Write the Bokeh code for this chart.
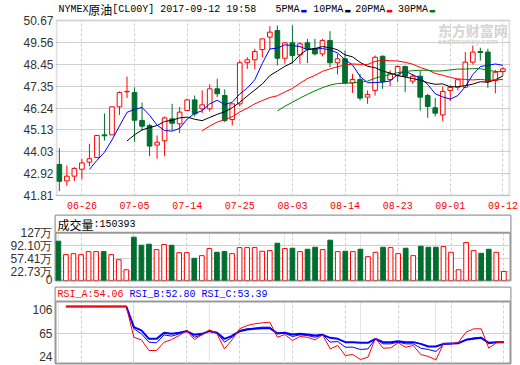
from bokeh.plotting import figure
from bokeh.layouts import column
from bokeh.models import (Range1d, FixedTicker, PrintfTickFormatter, Label, Grid,
                          ColumnDataSource, Span, BoxAnnotation)
from bokeh.embed import file_html
from bokeh.resources import INLINE

# ---------------- data ----------------
tick_idx = [3, 10, 17, 24, 31, 38, 45, 52, 59]
tick_labels = ["06-26", "07-05", "07-14", "07-25", "08-03", "08-14", "08-23", "09-01", "09-12"]

price_ticks = [41.81, 42.92, 44.03, 45.13, 46.24, 47.35, 48.45, 49.56, 50.67]
vol_ticks = [0, 22.73, 57.41, 92.10, 127]
vol_tick_labels = ["0", "22.73万", "57.41万", "92.10万", "127万"]
rsi_ticks = [24, 65, 106]

opens = [43.38, 42.55, 42.79, 43.14, 43.50, 43.73, 44.88, 44.88, 46.30, 47.06,
         47.02, 45.61, 45.35, 44.36, 44.58, 45.69, 45.44, 46.11, 46.65, 46.20,
         46.20, 47.21, 46.87, 45.66, 46.45, 48.53, 48.68, 49.20, 49.83, 50.16,
         48.76, 49.54, 48.93, 49.54, 49.24, 48.98, 49.66, 48.53, 48.73, 47.51,
         47.68, 46.79, 47.13, 48.86, 47.68, 47.88, 48.34, 47.60, 47.85, 46.87,
         46.25, 45.89, 47.13, 47.29, 47.29, 48.56, 49.10, 49.07, 47.63, 48.09]
highs = [44.21, 43.33, 43.24, 43.67, 44.43, 44.88, 45.96, 46.30, 47.08, 47.83,
         47.29, 46.52, 45.44, 44.85, 45.81, 46.45, 46.29, 46.70, 46.87, 47.13,
         47.44, 47.72, 47.18, 46.45, 48.65, 48.81, 49.24, 49.74, 50.38, 50.42,
         49.57, 50.42, 49.57, 49.74, 49.74, 49.74, 50.13, 48.98, 49.15, 47.97,
         47.97, 47.13, 48.90, 48.90, 48.14, 48.39, 48.39, 47.97, 48.14, 46.96,
         46.74, 47.33, 47.38, 47.67, 49.07, 49.40, 49.29, 49.24, 48.17, 48.31]
lows = [42.03, 42.30, 42.54, 42.64, 43.29, 43.73, 44.59, 44.88, 45.89, 46.74,
        44.51, 45.10, 43.80, 43.67, 43.80, 45.10, 44.97, 46.11, 45.81, 45.98,
        46.06, 46.79, 45.52, 45.35, 46.33, 48.22, 48.19, 48.81, 49.20, 48.39,
        48.48, 48.48, 48.48, 48.51, 48.90, 48.86, 48.31, 47.94, 47.46, 47.01,
        46.62, 46.45, 46.87, 47.21, 47.35, 47.55, 47.04, 47.46, 46.11, 45.74,
        45.81, 45.57, 46.59, 47.13, 47.26, 48.44, 48.64, 47.26, 46.99, 47.89]
closes = [42.53, 42.79, 43.18, 43.46, 43.67, 44.85, 44.83, 46.30, 47.02, 47.08,
          45.62, 45.32, 44.31, 44.51, 45.74, 45.47, 46.03, 46.65, 45.94, 46.40,
          47.21, 46.96, 45.61, 46.45, 48.53, 48.68, 49.10, 49.74, 50.08, 48.76,
          49.54, 48.90, 49.49, 49.24, 48.98, 49.66, 48.53, 48.73, 47.51, 47.68,
          46.74, 46.92, 48.81, 47.58, 47.98, 48.34, 47.85, 47.85, 46.79, 46.32,
          45.98, 47.08, 47.29, 47.67, 48.56, 49.07, 49.05, 47.58, 48.05, 48.22]

volume = [104.6, 68.9, 71.5, 68.9, 76.9, 76.9, 76.9, 68.9, 55.4, 28.6,
          115.4, 93.9, 96.6, 82.3, 95.7, 93.9, 74.2, 74.2, 59.0, 66.2,
          85.0, 75.1, 76.9, 71.5, 87.6, 87.6, 87.6, 77.8, 79.6, 99.3,
          85.0, 85.9, 76.9, 83.2, 88.5, 82.3, 107.3, 76.9, 77.8, 76.9,
          83.2, 63.5, 75.1, 88.5, 87.6, 71.5, 85.9, 66.2, 91.2, 88.5,
          88.5, 90.3, 75.1, 28.6, 101.0, 79.6, 72.4, 83.2, 75.1, 24.2]

ma5 = [43.13, 43.59, 44.00, 44.62, 45.33, 46.02, 46.17, 46.27, 45.87, 45.37,
       45.10, 45.07, 45.21, 45.68, 45.97, 46.10, 46.45, 46.63, 46.42, 46.53,
       46.95, 47.25, 47.67, 48.50, 49.23, 49.27, 49.44, 49.40, 49.35, 49.19,
       49.23, 49.25, 49.18, 49.03, 48.68, 48.42, 47.84, 47.52, 47.53, 47.55,
       47.61, 47.93, 48.11, 47.92, 47.76, 47.43, 46.96, 46.80, 46.69, 46.87,
       47.32, 47.93, 48.34, 48.40, 48.47, 48.40]
ma10 = [44.57, 44.88, 45.13, 45.25, 45.35, 45.56, 45.62, 45.74, 45.78, 45.67,
        45.60, 45.76, 45.92, 46.05, 46.25, 46.53, 46.85, 47.15, 47.46, 47.88,
        48.11, 48.35, 48.54, 48.93, 49.21, 49.25, 49.35, 49.29, 49.19, 48.93,
        48.83, 48.55, 48.35, 48.28, 48.11, 48.01, 47.88, 47.81, 47.73, 47.65,
        47.52, 47.44, 47.46, 47.31, 47.32, 47.37, 47.45, 47.57, 47.54, 47.67,
        47.86]
ma20 = [45.09, 45.32, 45.53, 45.65, 45.80, 46.04, 46.23, 46.45, 46.62, 46.77,
        46.86, 47.05, 47.23, 47.49, 47.73, 47.89, 48.10, 48.22, 48.33, 48.41,
        48.47, 48.45, 48.44, 48.60, 48.66, 48.63, 48.62, 48.55, 48.46, 48.29,
        48.17, 47.99, 47.90, 47.79, 47.71, 47.69, 47.66, 47.69, 47.64, 47.66,
        47.69]
ma30 = [46.09, 46.33, 46.53, 46.74, 46.93, 47.11, 47.27, 47.40, 47.48, 47.49,
        47.51, 47.55, 47.60, 47.75, 47.86, 47.93, 48.03, 48.09, 48.13, 48.15,
        48.15, 48.11, 48.12, 48.17, 48.21, 48.21, 48.23, 48.23, 48.15, 48.09,
        48.07]

rsi_a = [111.8, 111.8, 111.8, 111.8, 111.8, 111.8, 111.8, 111.8, 111.8,
         57.8, 53.3, 34.5, 34.5, 49.2, 53.8, 60.8, 69.7, 53.8, 62.0,
         70.8, 63.8, 37.4, 53.3, 72.6, 78.4, 81.4, 83.1, 84.3, 57.8,
         62.6, 52.1, 59.1, 57.8, 53.3, 62.0, 37.4, 43.3, 25.7, 27.5,
         18.7, 22.8, 56.2, 38.6, 39.2, 48.0, 40.4, 43.3, 27.5, 24.0,
         18.1, 46.2, 46.2, 49.2, 66.8, 72.6, 72.6, 38.6, 48.0, 49.2]
rsi_b = [111.8, 111.8, 111.8, 111.8, 111.8, 111.8, 111.8, 111.8, 111.8,
         72.6, 63.8, 49.2, 48.0, 62.0, 59.7, 63.8, 69.7, 57.8, 62.0,
         69.7, 65.6, 49.2, 57.8, 69.7, 72.6, 73.8, 75.5, 75.5, 63.8,
         64.8, 59.1, 62.0, 60.8, 57.8, 62.0, 49.2, 50.3, 40.4, 40.4,
         36.3, 37.4, 55.0, 46.2, 46.2, 49.2, 46.2, 46.2, 38.6, 36.3,
         32.8, 45.0, 46.2, 48.0, 53.8, 56.8, 57.8, 46.2, 49.2, 49.2]
rsi_c = [111.8, 111.8, 111.8, 111.8, 111.8, 111.8, 111.8, 111.8, 111.8,
         75.5, 69.8, 55.0, 55.0, 65.6, 63.8, 65.6, 68.5, 62.0, 63.8,
         68.5, 65.6, 55.0, 60.3, 68.5, 71.4, 72.6, 73.8, 73.8, 64.8,
         65.6, 62.6, 63.8, 62.6, 60.8, 62.0, 56.8, 55.0, 49.2, 49.2,
         48.0, 48.0, 55.0, 49.2, 49.2, 50.9, 49.2, 49.2, 46.2, 41.5,
         41.5, 46.2, 46.8, 47.4, 53.3, 55.0, 56.8, 48.0, 49.2, 49.2]

# ---------------- styling / geometry ----------------
RED = "#ff0000"
GREEN = "#006e2e"
BLUE = "#0000ff"
BORDER = "#999999"
GRID = "#d0d0d0"
AXIS_TXT = "#333333"
W = 520
FL, FR = 55, 510
X0, X1 = -0.38, 59.88
PXU = (FR - FL) / (X1 - X0)
BODY_W = 0.62


def xpx(px):
    return X0 + (px - FL) / PXU


def style_yaxis(p, ticks, overrides=None, fmt=None, standoff=3):
    ax = p.yaxis[0]
    ax.ticker = FixedTicker(ticks=ticks)
    ax.axis_line_color = None
    ax.major_tick_line_color = None
    ax.minor_tick_line_color = None
    ax.major_tick_in = 0
    ax.major_tick_out = 0
    ax.major_label_standoff = standoff
    ax.major_label_text_font = "Liberation Sans"
    ax.major_label_text_font_size = "12px"
    ax.major_label_text_color = AXIS_TXT
    if overrides:
        ax.major_label_overrides = overrides
    if fmt:
        ax.formatter = PrintfTickFormatter(format=fmt)


def make_fig(height, y0, y1, top, bottom, with_xaxis=False, x0=X0, x1=X1,
             left=FL, right=W - FR, outline=BORDER):
    p = figure(width=W, height=height, x_range=Range1d(x0, x1), y_range=Range1d(y0, y1),
               output_backend="svg", toolbar_location=None,
               min_border_left=left, min_border_right=right,
               min_border_top=top, min_border_bottom=bottom,
               x_axis_location="below" if with_xaxis else None,
               background_fill_color="white", border_fill_color="white",
               outline_line_color=outline, outline_line_width=2)
    if with_xaxis:
        ax = p.xaxis[0]
        ax.ticker = FixedTicker(ticks=tick_idx)
        ax.major_label_overrides = dict(zip(tick_idx, tick_labels))
        ax.axis_line_color = None
        ax.major_tick_line_color = None
        ax.minor_tick_line_color = None
        ax.major_tick_in = 0
        ax.major_tick_out = 0
        ax.major_label_standoff = 5
        ax.major_label_text_font = "Liberation Mono"
        ax.major_label_text_font_size = "10px"
        ax.major_label_text_color = RED
        p.xgrid.ticker = FixedTicker(ticks=tick_idx)
        p.xgrid.grid_line_color = GRID
        p.xgrid.grid_line_dash = "3 2"
    else:
        p.add_layout(Grid(dimension=0, ticker=FixedTicker(ticks=tick_idx),
                          grid_line_color=GRID, grid_line_dash="3 2"))
    p.ygrid.grid_line_color = GRID
    return p


def label(p, x, y, text, color="#000000", font="Liberation Mono", size="10px",
          align="left", style="normal"):
    p.add_layout(Label(x=x, y=y, text=text, text_color=color, text_font=font,
                       text_font_size=size, text_align=align, text_baseline="middle",
                       text_font_style=style))


idx = list(range(len(closes)))
is_up = [c >= o for o, c in zip(opens, closes)]
colors = [RED if u else GREEN for u in is_up]
fills = ["white" if u else GREEN for u in is_up]

# ---------------- price panel (frame covers the title strip too) ----------------
P_TOP, P_BOT = 50.67, 41.81
PPY = 175 / (P_TOP - P_BOT)


def ppy(py):
    return P_TOP - (py - 20) / PPY


p = make_fig(214, ppy(196), ppy(0), 0, 18, with_xaxis=True,
             x0=X0 - 1 / PXU, x1=X1 + 1 / PXU, left=FL - 1, right=W - FR - 1,
             outline=None)
style_yaxis(p, price_ticks, fmt="%.2f", standoff=2)
p.ygrid.ticker = FixedTicker(ticks=price_ticks)

src = ColumnDataSource(dict(x=idx, o=opens, h=highs, l=lows, c=closes,
                            top=[max(o, c) for o, c in zip(opens, closes)],
                            bot=[min(o, c) for o, c in zip(opens, closes)],
                            col=colors, fill=fills))
p.segment(x0="x", y0="l", x1="x", y1="h", line_color="col", line_width=1, source=src)
p.vbar(x="x", width=BODY_W, top="top", bottom="bot", fill_color="fill",
       line_color="col", line_width=1, source=src)

p.line(list(range(4, 60)), ma5, line_color=BLUE, line_width=1)
p.line(list(range(9, 60)), ma10, line_color="#000000", line_width=1)
p.line(list(range(19, 60)), ma20, line_color=RED, line_width=1)
p.line(list(range(29, 60)), ma30, line_color="#008000", line_width=1)

# white strip for the title, then the chart box border
p.add_layout(BoxAnnotation(bottom=P_TOP, fill_color="white", fill_alpha=1.0,
                           line_alpha=0))
p.add_layout(BoxAnnotation(left=X0, right=X1, top=P_TOP, bottom=P_BOT,
                           fill_alpha=0, line_color=BORDER, line_width=2))

# watermark
label(p, xpx(438), ppy(29), "东方财富网", color="#d4d4d4", font="Noto Sans CJK SC",
      size="14px", style="bold")
label(p, xpx(438), ppy(40.5), "eastmoney.com", color="#d4d4d4", font="Liberation Sans",
      size="8px", style="bold")

# title and legend
ty = ppy(9.2)
label(p, xpx(57), ty, "NYMEX")
label(p, xpx(87), ppy(9.0), "原油", font="Noto Sans CJK SC", size="12px")
label(p, xpx(111), ty, "[CL00Y] 2017-09-12 19:58")
legend_items = [("5PMA", 275, BLUE), ("10PMA", 313, "#000000"),
                ("20PMA", 355, RED), ("30PMA", 398, "#008000")]
for txt, px, col in legend_items:
    label(p, xpx(px), ty, txt)
    label(p, xpx(px + len(txt) * 6 + 4.5), ppy(10.5), "▬", color=col,
          font="DejaVu Sans", size="7px", align="center")

# ---------------- volume panel ----------------
V_SCALE = (280 - 232.3) / 127.0
V_TOP = 65 / V_SCALE
pv = make_fig(72, 0, V_TOP, 1, 6)
style_yaxis(pv, vol_ticks, overrides=dict(zip(vol_ticks, vol_tick_labels)))
pv.ygrid.ticker = FixedTicker(ticks=[22.73, 57.41, 92.10])
vsrc = ColumnDataSource(dict(x=idx, v=volume, col=colors, fill=fills))
pv.vbar(x="x", width=BODY_W, top="v", bottom=0, fill_color="fill",
        line_color="col", line_width=1, source=vsrc)
pv.add_layout(BoxAnnotation(bottom=127, fill_color="white", fill_alpha=1.0,
                            line_alpha=0))
pv.add_layout(Span(location=127, dimension="width", line_color=BORDER, line_width=2))


def vpy(py):
    return (280 - py) / V_SCALE


label(pv, xpx(57), vpy(223.5), "成交量", font="Noto Sans CJK SC", size="12px")
label(pv, xpx(93), vpy(223.5), ":150393")

# ---------------- RSI panel ----------------
R_SCALE = (356 - 309.3) / (106 - 24)
R_BOT = 24 - (363 - 356) / R_SCALE
R_TOP = R_BOT + 76 / R_SCALE
pr = make_fig(79, R_BOT, R_TOP, 1, 2)
style_yaxis(pr, rsi_ticks)
pr.ygrid.ticker = FixedTicker(ticks=[65])
rx = list(range(1, 60))
pr.line(rx, rsi_c, line_color=BLUE, line_width=2)
pr.line(rx, rsi_b, line_color=BLUE, line_width=1)
pr.line(rx, rsi_a, line_color=RED, line_width=1)
R_HDR = 24 + (356 - 301) / R_SCALE
pr.add_layout(BoxAnnotation(bottom=R_HDR, fill_color="white", fill_alpha=1.0,
                            line_alpha=0))
pr.add_layout(Span(location=R_HDR, dimension="width", line_color=BORDER, line_width=2))


def rpy(py):
    return R_BOT + (363 - py) / R_SCALE


label(pr, xpx(57), rpy(294), "RSI_A:54.06", color=RED)
label(pr, xpx(129), rpy(294), "RSI_B:52.80", color=BLUE)
label(pr, xpx(201), rpy(294), "RSI_C:53.39", color=BLUE)

layout = column(p, pv, pr, spacing=0)

open("out.html", "w").write(file_html(layout, INLINE))
